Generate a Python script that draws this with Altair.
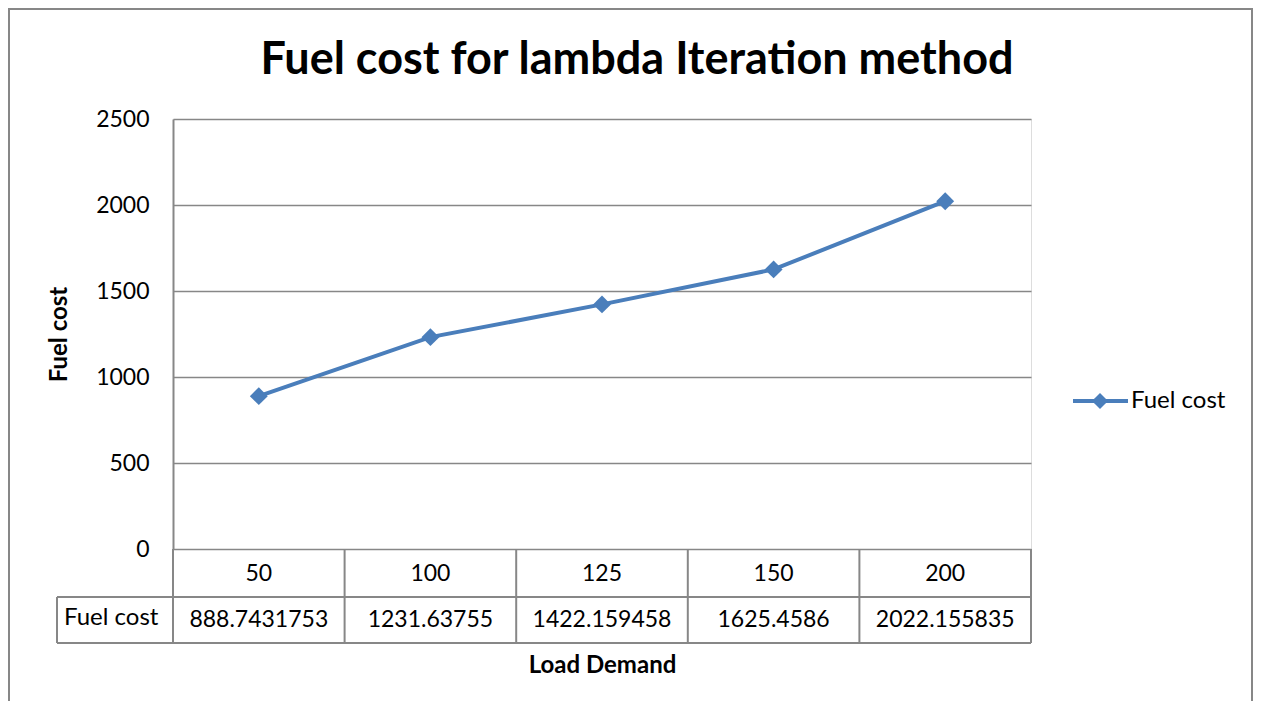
import altair as alt
import pandas as pd

# ---- data ----
load_demand = [50, 100, 125, 150, 200]
fuel_cost = [888.7431753, 1231.63755, 1422.159458, 1625.4586, 2022.155835]
fuel_cost_labels = ["888.7431753", "1231.63755", "1422.159458", "1625.4586", "2022.155835"]
y_ticks = [0, 500, 1000, 1500, 2000, 2500]
series_name = "Fuel cost"
title_text = "Fuel cost for lambda Iteration method"
x_title = "Load Demand"
y_title = "Fuel cost"

df = pd.DataFrame({
    "load": load_demand,
    "cost": fuel_cost,
    "cost_label": fuel_cost_labels,
    "series": [series_name] * len(load_demand),
})
one = pd.DataFrame({"label": [series_name]})
title_df = pd.DataFrame({"title": [title_text]})

FONT = "Lato"
GREY = "#878787"
BLUE = "#4A7EBB"
W, H = 858, 430
ROW1, ROW2 = 478, 524  # bottoms of table rows (plot coords)

x_enc = alt.X(
    "load:O",
    sort=load_demand,
    scale=alt.Scale(type="band", paddingInner=0, paddingOuter=0),
    axis=alt.Axis(labels=False, ticks=False, domain=False, grid=False,
                  title=x_title, titleFont=FONT, titleFontSize=24,
                  titleFontWeight="bold", titleColor="black", titlePadding=104),
)
y_enc = alt.Y(
    "cost:Q",
    scale=alt.Scale(domain=[0, 2500], nice=False),
    axis=alt.Axis(values=y_ticks, format="d", grid=True, gridColor=GREY, gridWidth=1.5,
                  ticks=False, domainColor=GREY, domainWidth=2,
                  labelFont=FONT, labelFontSize=23, labelColor="black",
                  labelPadding=24, title=y_title, titleFont=FONT,
                  titleFontSize=24, titleFontWeight="bold", titleColor="black",
                  titlePadding=24),
)

border = alt.Chart(one).mark_rect(fillOpacity=0, stroke=GREY, strokeWidth=2).encode(
    x=alt.value(-164), x2=alt.value(1079), y=alt.value(-110), y2=alt.value(640)
)

title = alt.Chart(title_df).mark_text(font=FONT, fontSize=45, fontWeight="bold", color="black",
                                      align="center", baseline="alphabetic").encode(
    x=alt.value(464), y=alt.value(-45), text="title:N"
)

line = alt.Chart(df).mark_line(color=BLUE, strokeWidth=4).encode(x=x_enc, y=y_enc)
pts = alt.Chart(df).mark_point(shape="diamond", filled=True, size=320, color=BLUE, opacity=1).encode(
    x=alt.X("load:O", sort=load_demand), y="cost:Q"
)

# data table below the plot
vlines = alt.Chart(df).mark_rule(color=GREY, strokeWidth=2).encode(
    x=alt.X("load:O", sort=load_demand, bandPosition=0), y=alt.value(H), y2=alt.value(ROW2)
)
vline_right = alt.Chart(one).mark_rule(color=GREY, strokeWidth=2).encode(
    x=alt.value(W), y=alt.value(H), y2=alt.value(ROW2)
)
vline_label = alt.Chart(one).mark_rule(color=GREY, strokeWidth=2).encode(
    x=alt.value(-116), y=alt.value(ROW1), y2=alt.value(ROW2)
)
hline1 = alt.Chart(one).mark_rule(color=GREY, strokeWidth=2).encode(
    x=alt.value(-116), x2=alt.value(W), y=alt.value(ROW1)
)
hline2 = alt.Chart(one).mark_rule(color=GREY, strokeWidth=2).encode(
    x=alt.value(-116), x2=alt.value(W), y=alt.value(ROW2)
)
row1_text = alt.Chart(df).mark_text(font=FONT, fontSize=23, color="black", baseline="middle").encode(
    x=alt.X("load:O", sort=load_demand), y=alt.value((H + ROW1) / 2 + 1), text="load:N"
)
row2_text = alt.Chart(df).mark_text(font=FONT, fontSize=23, color="black", baseline="middle").encode(
    x=alt.X("load:O", sort=load_demand), y=alt.value((ROW1 + ROW2) / 2), text="cost_label:N"
)
row2_label = alt.Chart(one).mark_text(font=FONT, fontSize=24, color="black", align="left", baseline="middle").encode(
    x=alt.value(-109), y=alt.value((ROW1 + ROW2) / 2 - 2), text="label:N"
)

# legend
leg_line = alt.Chart(one).mark_rule(color=BLUE, strokeWidth=4).encode(
    x=alt.value(900), x2=alt.value(955), y=alt.value(282)
)
leg_pt = alt.Chart(one).mark_point(shape="diamond", filled=True, size=260, color=BLUE, opacity=1).encode(
    x=alt.value(927), y=alt.value(282)
)
leg_text = alt.Chart(one).mark_text(font=FONT, fontSize=24, color="black", align="left", baseline="middle").encode(
    x=alt.value(958), y=alt.value(282), text="label:N"
)

chart = alt.layer(
    border, title, line, pts, vlines, vline_right, vline_label, hline1, hline2,
    row1_text, row2_text, row2_label, leg_line, leg_pt, leg_text,
).properties(
    width=W, height=H,
    padding={"left": 165, "top": 111, "right": 222, "bottom": 152},
    autosize=alt.AutoSizeParams(type="none"),
).configure_view(stroke=None).configure(background="white")

chart.save("out.html", embed_options={"renderer": "svg", "actions": False})
